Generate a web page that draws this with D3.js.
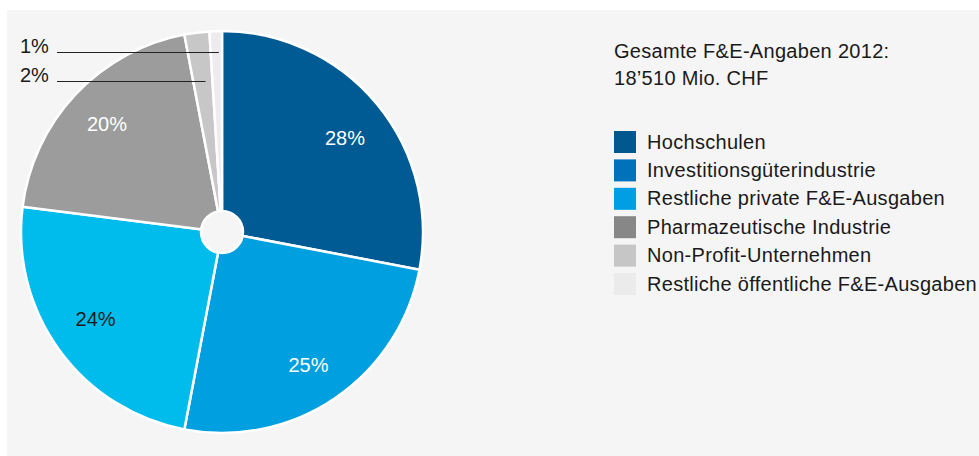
<!DOCTYPE html>
<html><head><meta charset="utf-8">
<script src="https://cdn.jsdelivr.net/npm/d3@7"></script>
<style>
html,body{margin:0;padding:0;background:#fff;}
svg{display:block;}
text{font-family:"Liberation Sans",Arial,Helvetica,sans-serif;}
</style></head>
<body>
<script>
const categories = ["Hochschulen","Investitionsgüterindustrie","Restliche private F&E-Ausgaben","Pharmazeutische Industrie","Non-Profit-Unternehmen","Restliche öffentliche F&E-Ausgaben"];
const values = [28, 25, 24, 20, 2, 1];
const labels = ["28%","25%","24%","20%","2%","1%"];
const sliceColors = ["#005a94","#009fe0","#00bcec","#9b9c9b","#c6c7c6","#ececec"];
const legendColors = ["#00588f","#0072bb","#009fe3","#878787","#c6c6c6","#ebebeb"];
const labelColors = ["#fff","#fff","#1a1a1a","#fff"];
const titleLines = ["Gesamte F&E-Angaben 2012:","18’510 Mio. CHF"];

const W = 979, H = 456;
const svg = d3.select("body").append("svg").attr("width", W).attr("height", H);
svg.append("rect").attr("x", 7).attr("y", 10).attr("width", W - 7).attr("height", H - 10).attr("fill", "#f5f5f5");

const cx = 222, cy = 232, R = 201, hole = 21;
const g = svg.append("g").attr("transform", `translate(${cx},${cy})`);
const pie = d3.pie().sort(null).value(d => d);
const arcs = pie(values);
const arc = d3.arc().innerRadius(0).outerRadius(R);
g.selectAll("path.slice").data(arcs).join("path")
  .attr("class", "slice")
  .attr("d", arc)
  .attr("fill", (d, i) => sliceColors[i])
  .attr("stroke", "#fff").attr("stroke-width", 2.5).attr("stroke-linejoin", "round");
g.append("circle").attr("r", hole).attr("fill", "#f5f5f5").attr("stroke", "#fff").attr("stroke-width", 2.5);

// inner labels (placed at the arc centroid, with small layout nudges)
const labelArc = d3.arc().innerRadius(155).outerRadius(155);
const labelNudge = [[3.5, 4.8], [-0.7, 4.7], [-1, -4], [-2, -2]];
g.selectAll("text.lbl").data(arcs.slice(0, 4)).join("text")
  .attr("class", "lbl")
  .attr("transform", (d, i) => { const c = labelArc.centroid(d); return `translate(${c[0] + labelNudge[i][0]},${c[1] + 7 + labelNudge[i][1]})`; })
  .attr("text-anchor", "middle")
  .attr("font-size", 20)
  .attr("fill", (d, i) => labelColors[i])
  .text((d, i) => labels[i]);

// small slice callouts (1% top, 2% below)
const callouts = [{i: 5, y: 52.5}, {i: 4, y: 81.5}];
callouts.forEach(c => {
  const a = arcs[c.i];
  const mid = (a.startAngle + a.endAngle) / 2;
  const dy = c.y - cy;
  const xEnd = cx + (-dy) * Math.tan(mid) + 2.5;
  svg.append("line").attr("x1", 57).attr("x2", xEnd).attr("y1", c.y).attr("y2", c.y)
    .attr("stroke", "#222").attr("stroke-width", 1);
  svg.append("text").attr("x", 20).attr("y", c.y + 0.5).attr("font-size", 20).attr("fill", "#1a1a1a")
    .text(labels[c.i]);
});

// title
svg.selectAll("text.title").data(titleLines).join("text")
  .attr("class", "title")
  .attr("x", 614).attr("y", (d, i) => 58 + i * 27)
  .attr("font-size", 20).attr("letter-spacing", 0.3).attr("fill", "#1a1a1a")
  .text(d => d);

// legend
const lg = svg.append("g");
const rowY = d3.scaleLinear().domain([0, 5]).range([131, 273]);
categories.forEach((c, i) => {
  lg.append("rect").attr("x", 614).attr("y", rowY(i)).attr("width", 22).attr("height", 22).attr("fill", legendColors[i]);
  lg.append("text").attr("x", 647).attr("y", rowY(i) + 17.5).attr("font-size", 20).attr("letter-spacing", 0.3)
    .attr("fill", "#1a1a1a").text(c);
});
</script>
</body></html>
